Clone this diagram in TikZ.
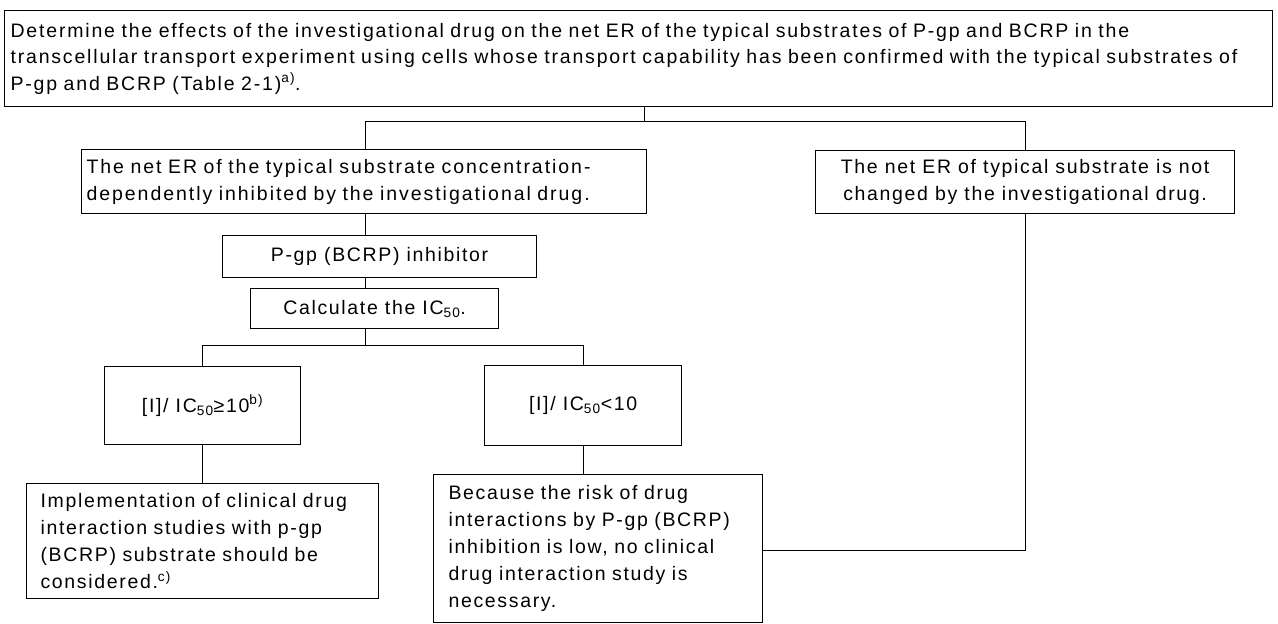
\documentclass[tikz,border=0pt]{standalone}
\usepackage{fontspec}
\setmainfont{Liberation Sans}[LetterSpace=8.5]
\newfontfamily\widefont{Liberation Sans}[LetterSpace=10]
\newfontfamily\topfont{Liberation Sans}[LetterSpace=9.3]
\begin{document}
\begin{tikzpicture}[x=1pt,y=-1pt,
  every node/.style={font=\fontsize{19.5}{27}\selectfont},
  box/.style={draw, line width=1.2pt, inner sep=0pt, anchor=north west, align=left},
  cbox/.style={box, align=center},
  conn/.style={line width=0.9pt}]
\useasboundingbox (0,0) rectangle (1278,624);
\fill[white] (0,0) rectangle (1278,624);
% boxes
\node[box, text width=1256pt, inner xsep=6pt, minimum height=96pt,
      font=\fontsize{19.5}{26.5}\selectfont\topfont] (top) at (4,10)
 {\mbox{Determine the effects of the investigational drug on the net ER of the typical substrates of P-gp and BCRP in the}\\
  \mbox{transcellular transport experiment using cells whose transport capability has been confirmed with the typical substrates of}\\
  \mbox{P-gp and BCRP (Table 2-1)\textsuperscript{a)}.}};
\node[box, text width=555pt, inner xsep=5pt, minimum height=64pt,
      font=\fontsize{19.5}{27}\selectfont\widefont] (inh) at (81,149)
 {The net ER of the typical substrate concentration-\\ dependently inhibited by the investigational drug.};
\node[cbox, minimum width=419pt, minimum height=63pt] (nch) at (815,150)
 {The net ER of typical substrate is not\\ changed by the investigational drug.};
\node[cbox, minimum width=314pt, minimum height=42pt] (pgp) at (222,235) {P-gp (BCRP) inhibitor};
\node[cbox, minimum width=248pt, minimum height=40pt] (calc) at (250,288) {Calculate the IC\textsubscript{50}.};
\node[cbox, minimum width=196pt, minimum height=78pt] (ge) at (104,366) {[I]/ IC\textsubscript{50}≥10\textsuperscript{b)}};
\node[cbox, minimum width=197pt, minimum height=80pt] (lt) at (484,365) {[I]/ IC\textsubscript{50}<10};
\node[box, text width=324pt, inner xsep=14pt, minimum height=115pt] (impl) at (26,483)
 {Implementation of clinical drug\\ interaction studies with p-gp\\ (BCRP) substrate should be\\ considered.\textsuperscript{c)}};
\node[box, text width=299pt, inner xsep=15pt, minimum height=148pt] (bec) at (433,474)
 {Because the risk of drug\\ interactions by P-gp (BCRP)\\ inhibition is low, no clinical\\ drug interaction study is\\ necessary.};
% junctions
\coordinate (j1) at (644,121);
\coordinate (sp) at (365,121);
\coordinate (rb) at (1025,121);
\coordinate (j2) at (365,345);
\coordinate (gl) at (202,345);
\coordinate (lr) at (583,345);
\coordinate (rc) at (1025,550);
% connectors
\draw[conn] (top.south -| j1) -- (j1);
\draw[conn] (sp) -- (rb);
\draw[conn] (sp) -- (inh.north -| sp);
\draw[conn] (rb) -- (nch.north -| rb);
\draw[conn] (inh.south -| sp) -- (pgp.north -| sp);
\draw[conn] (pgp.south -| sp) -- (calc.north -| sp);
\draw[conn] (calc.south -| sp) -- (j2);
\draw[conn] (gl) -- (lr);
\draw[conn] (gl) -- (ge.north -| gl);
\draw[conn] (lr) -- (lt.north -| lr);
\draw[conn] (ge.south -| gl) -- (impl.north -| gl);
\draw[conn] (lt.south -| lr) -- (bec.north -| lr);
\draw[conn] (nch.south -| rb) -- (rc) -- (bec.east |- rc);
\end{tikzpicture}
\end{document}
